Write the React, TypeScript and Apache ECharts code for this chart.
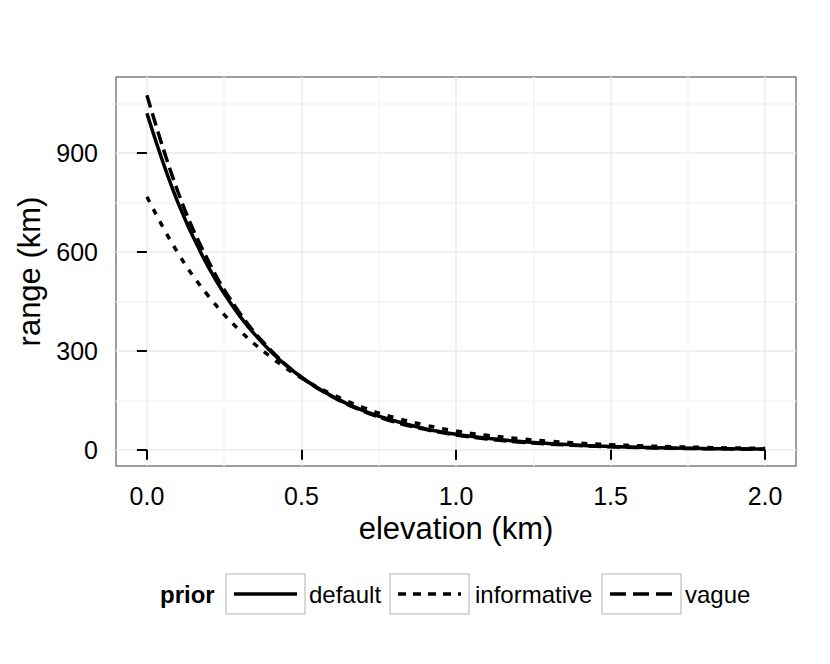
import React, { useEffect, useRef } from "react";
import * as echarts from "echarts";

// elevation (km)
const elevation = [0, 0.1, 0.2, 0.3, 0.4, 0.5, 0.6, 0.7, 0.8, 0.9, 1.0, 1.1, 1.2, 1.3, 1.4, 1.5, 1.6, 1.7, 1.8, 1.9, 2.0];
// range (km) for each prior
const defaultRange = [1020, 750, 552, 406, 299, 220, 162, 119, 88, 64, 47, 35, 26, 19, 14, 10, 7.5, 5.5, 4.1, 3.0, 2.2];
const informativeRange = [767, 597, 465, 362, 282, 218, 168, 128, 98, 75, 57, 44, 34, 26, 20, 15.5, 12, 9.3, 7.2, 5.6, 4.4];
const vagueRange = [1075, 783, 570, 415, 303, 220, 161, 117, 85, 62, 45, 33, 24, 17.5, 12.8, 9.3, 6.8, 4.9, 3.6, 2.6, 1.9];

const priorLabels = ["default", "informative", "vague"];
const legendTitle = "prior";
const xTicks = [0, 0.5, 1.0, 1.5, 2.0];
const xMinorTicks = [0.25, 0.75, 1.25, 1.75];
const yTicks = [0, 300, 600, 900];
const yMinorTicks = [150, 450, 750, 1050];

const FONT = "'Liberation Sans', Arial, Helvetica, sans-serif";

const pairs = (ys: number[]) => elevation.map((x, i) => [x, ys[i]]);

export default function App() {
  const ref = useRef<HTMLDivElement>(null);

  useEffect(() => {
    document.body.style.margin = "0";
    if (!ref.current) return;
    const chart = echarts.init(ref.current, null, { renderer: "svg" });

    const dashes: (string | number[])[] = ["solid", [6, 8], [13, 6]];
    const legendDashes: (number[] | null)[] = [null, [8, 7], [16, 7]];
    const seriesData = [defaultRange, informativeRange, vagueRange];

    // legend layout (positions only)
    const boxX = [226, 390, 602];
    const textX = [309, 475, 685];
    const boxW = 79;
    const boxTop = 574;
    const boxH = 40;
    const midY = 594;

    const legendGraphics: any[] = [
      {
        type: "text",
        style: {
          text: legendTitle,
          x: 160,
          y: midY,
          fill: "#000",
          fontFamily: FONT,
          fontSize: 24,
          fontWeight: "bold",
          verticalAlign: "middle",
          align: "left",
        },
      },
    ];
    priorLabels.forEach((lab, i) => {
      legendGraphics.push({
        type: "rect",
        shape: { x: boxX[i], y: boxTop, width: boxW, height: boxH },
        style: { fill: "#fff", stroke: "#cccccc", lineWidth: 1.5 },
      });
      legendGraphics.push({
        type: "line",
        shape: { x1: boxX[i] + 8, y1: midY, x2: boxX[i] + boxW - 8, y2: midY },
        style: {
          stroke: "#000",
          lineWidth: 3.5,
          lineDash: legendDashes[i] || undefined,
        },
      });
      legendGraphics.push({
        type: "text",
        style: {
          text: lab,
          x: textX[i],
          y: midY,
          fill: "#000",
          fontFamily: FONT,
          fontSize: 24,
          verticalAlign: "middle",
          align: "left",
        },
      });
    });

    const option: any = {
      animation: false,
      backgroundColor: "#fff",
      textStyle: { fontFamily: FONT },
      grid: {
        left: 116,
        top: 77,
        width: 680,
        height: 389,
        show: true,
        backgroundColor: "#fff",
        borderColor: "#7f7f7f",
        borderWidth: 1.5,
      },
      xAxis: [
        {
          type: "value",
          min: -0.1,
          max: 2.1,
          position: "bottom",
          axisLine: { show: false },
          axisTick: {
            show: true,
            customValues: xTicks,
            length: 10,
            lineStyle: { color: "#000", width: 2 },
          },
          axisLabel: {
            customValues: xTicks,
            formatter: (v: number) => v.toFixed(1),
            fontSize: 25,
            color: "#000",
            fontFamily: FONT,
            margin: 17,
          },
          splitLine: { show: true, lineStyle: { color: "#ebebeb", width: 1.5 } },
          name: "elevation (km)",
          nameLocation: "middle",
          nameGap: 40,
          nameTextStyle: { fontSize: 31, color: "#000", fontFamily: FONT },
        },
        {
          type: "value",
          min: -0.1,
          max: 2.1,
          position: "top",
          axisLine: { show: false },
          axisTick: { show: false, customValues: xMinorTicks },
          axisLabel: { show: false, customValues: xMinorTicks },
          splitLine: { show: true, lineStyle: { color: "#f4f4f4", width: 1.5 } },
        },
      ],
      yAxis: [
        {
          type: "value",
          min: -49,
          max: 1130,
          position: "left",
          axisLine: { show: false },
          axisTick: {
            show: true,
            customValues: yTicks,
            length: 10,
            lineStyle: { color: "#000", width: 2 },
          },
          axisLabel: {
            customValues: yTicks,
            fontSize: 25,
            color: "#000",
            fontFamily: FONT,
            margin: 18,
          },
          splitLine: { show: true, lineStyle: { color: "#ebebeb", width: 1.5 } },
          name: "range (km)",
          nameLocation: "middle",
          nameGap: 60,
          nameTextStyle: { fontSize: 31, color: "#000", fontFamily: FONT },
        },
        {
          type: "value",
          min: -49,
          max: 1130,
          position: "right",
          axisLine: { show: false },
          axisTick: { show: false, customValues: yMinorTicks },
          axisLabel: { show: false, customValues: yMinorTicks },
          splitLine: { show: true, lineStyle: { color: "#f4f4f4", width: 1.5 } },
        },
      ],
      series: priorLabels.map((lab, i) => ({
        name: lab,
        type: "line",
        xAxisIndex: 0,
        yAxisIndex: 0,
        data: pairs(seriesData[i]),
        smooth: 0.4,
        showSymbol: false,
        symbol: "none",
        lineStyle: { color: "#000", width: 3.5, type: dashes[i] },
        z: 3 + i,
      })),
      graphic: legendGraphics,
    };

    chart.setOption(option);
    return () => chart.dispose();
  }, []);

  return <div ref={ref} style={{ width: 830, height: 664 }} />;
}
